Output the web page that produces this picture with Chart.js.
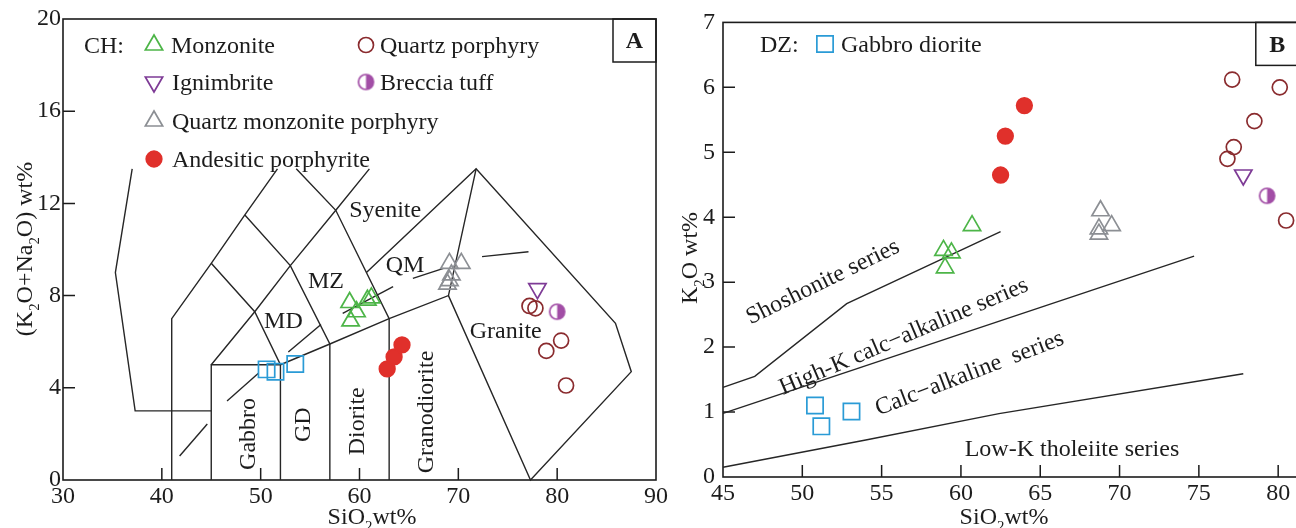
<!DOCTYPE html>
<html>
<head>
<meta charset="utf-8">
<script src="https://cdn.jsdelivr.net/npm/chart.js@4.4.0/dist/chart.umd.min.js"></script>
<style>
  html, body { margin: 0; padding: 0; background: #fff; overflow: hidden; }
  #wrap { position: relative; width: 1296px; height: 528px; overflow: hidden; }
  canvas { position: absolute; top: 0; }
  #chartA { left: 0; }
  #chartB { left: 662px; }
</style>
</head>
<body>
<div id="wrap">
  <canvas id="chartA" width="680" height="528"></canvas>
  <canvas id="chartB" width="650" height="528"></canvas>
</div>
<script>
const FONT = '"Liberation Serif", "Times New Roman", serif';

// ---- panel A: SiO2 vs K2O+Na2O ----
const A_xTicks = [30, 40, 50, 60, 70, 80, 90];
const A_yTicks = [0, 4, 8, 12, 16, 20];

const A_monzonite_x = [59.0, 59.7, 59.1, 60.8, 61.2];
const A_monzonite_y = [7.7, 7.3, 6.9, 7.8, 7.9];
const A_qmp_x = [69.1, 70.3, 69.3, 69.1, 68.9];
const A_qmp_y = [9.4, 9.4, 8.9, 8.65, 8.5];
const A_qporphyry_x = [77.2, 77.8, 80.4, 78.9, 80.9];
const A_qporphyry_y = [7.55, 7.45, 6.05, 5.6, 4.1];
const A_ignimbrite_x = [78.0];
const A_ignimbrite_y = [8.3];
const A_breccia_x = [80.0];
const A_breccia_y = [7.3];
const A_andesitic_x = [62.8, 63.5, 64.3];
const A_andesitic_y = [4.82, 5.34, 5.86];
const A_gabbroDior_x = [50.6, 51.5, 53.5];
const A_gabbroDior_y = [4.8, 4.7, 5.03];

// field boundaries (SiO2, alkalis)
const A_lines = [
  [[37, 13.5], [35.3, 9], [37.3, 3], [45, 3]],
  [[41, 0], [41, 7], [45, 9.4], [48.4, 11.5], [51.7, 13.5]],
  [[45, 0], [45, 5], [52, 5]],
  [[45, 5], [49.4, 7.3], [53, 9.3], [57.6, 11.7], [61, 13.5]],
  [[45, 9.4], [49.4, 7.3], [52, 5], [52, 0]],
  [[48.4, 11.5], [53, 9.3], [57, 5.9], [57, 0]],
  [[53.6, 13.5], [57.6, 11.7], [63, 7], [63, 0]],
  [[52, 5], [57, 5.9], [63, 7], [69, 8], [71.8, 13.5]],
  [[69, 8], [77.3, 0], [87.5, 4.7], [85.9, 6.8], [71.8, 13.5], [60.7, 9.0]]
];
// alkaline / subalkaline divide, drawn broken
const A_divide = [
  [[41.8, 1.04], [44.6, 2.43]],
  [[46.6, 3.43], [49.8, 4.64]],
  [[52.8, 5.55], [56.1, 6.75]],
  [[58.3, 7.23], [63.4, 8.39]],
  [[65.4, 8.75], [68.5, 9.18]],
  [[72.4, 9.69], [77.1, 9.9]]
];
const A_fields = [
  { t: 'Syenite', x: 62.6, y: 11.7, r: 0 },
  { t: 'QM', x: 64.6, y: 9.3, r: 0 },
  { t: 'MZ', x: 56.6, y: 8.6, r: 0 },
  { t: 'MD', x: 52.3, y: 6.85, r: 0 },
  { t: 'Granite', x: 74.8, y: 6.45, r: 0 },
  { t: 'Gabbro', x: 48.8, y: 2.0, r: -90 },
  { t: 'GD', x: 54.4, y: 2.4, r: -90 },
  { t: 'Diorite', x: 59.85, y: 2.55, r: -90 },
  { t: 'Granodiorite', x: 66.8, y: 2.95, r: -90 }
];

// ---- panel B: SiO2 vs K2O ----
const B_xTicks = [45, 50, 55, 60, 65, 70, 75, 80];
const B_yTicks = [0, 1, 2, 3, 4, 5, 6, 7];

const B_monzonite_x = [58.9, 59.4, 59.0, 60.7];
const B_monzonite_y = [3.49, 3.45, 3.22, 3.87];
const B_qmp_x = [68.8, 68.7, 69.5, 68.7];
const B_qmp_y = [4.1, 3.82, 3.87, 3.74];
const B_qporphyry_x = [77.1, 80.1, 78.5, 77.2, 76.8, 80.5];
const B_qporphyry_y = [6.12, 6.0, 5.48, 5.08, 4.9, 3.95];
const B_ignimbrite_x = [77.8];
const B_ignimbrite_y = [4.65];
const B_breccia_x = [79.3];
const B_breccia_y = [4.33];
const B_andesitic_x = [64.0, 62.8, 62.5];
const B_andesitic_y = [5.72, 5.25, 4.65];
const B_gabbroDior_x = [50.8, 51.2, 53.1];
const B_gabbroDior_y = [1.1, 0.78, 1.01];

const B_lines = [
  [[45, 1.38], [47, 1.55], [52.8, 2.67], [62.5, 3.78]],
  [[45, 0.98], [74.7, 3.4]],
  [[45, 0.15], [54, 0.57], [62.4, 0.975], [77.8, 1.59]]
];
const B_fields = [
  { t: 'Shoshonite series', x: 51.3, y: 3.0, r: -26 },
  { t: 'High-K calc\u2212alkaline series', x: 56.4, y: 2.16, r: -23 },
  { t: 'Calc\u2212alkaline  series', x: 60.55, y: 1.59, r: -21 },
  { t: 'Low-K tholeiite series', x: 67.0, y: 0.42, r: 0 }
];

const GREEN = '#4db548';
const MAROON = '#8a2b2e';
const PURPLE = '#7e3b96';
const BRECCIA = '#a24ea6';
const GRAY = '#8c8f94';
const RED = '#e0302b';
const BLUE = '#2a9bd6';
const INK = '#1c1c1c';

function halfCircle(r, color) {
    const c = document.createElement('canvas');
    const s = Math.ceil(r * 2 + 4);
    c.width = s;
    c.height = s;
    const g = c.getContext('2d');
    g.beginPath();
    g.arc(s / 2, s / 2, r, -Math.PI / 2, Math.PI / 2);
    g.closePath();
    g.fillStyle = color;
    g.fill();
    g.beginPath();
    g.arc(s / 2, s / 2, r, 0, Math.PI * 2);
    g.strokeStyle = color;
    g.lineWidth = 1.7;
    g.stroke();
    return c;
}
const HALF = halfCircle(7.5, BRECCIA);

const STYLES = {
    monzonite: { pointStyle: 'triangle', radius: 10, color: GREEN, fill: null, rotation: 0 },
    qporphyry: { pointStyle: 'circle', radius: 7.5, color: MAROON, fill: null, rotation: 0 },
    ignimbrite: { pointStyle: 'triangle', radius: 10, color: PURPLE, fill: null, rotation: 180 },
    breccia: { pointStyle: HALF, radius: 7.5, color: BRECCIA, fill: null, rotation: 0 },
    qmp: { pointStyle: 'triangle', radius: 10, color: GRAY, fill: null, rotation: 0 },
    andesitic: { pointStyle: 'circle', radius: 7.8, color: RED, fill: RED, rotation: 0 },
    gabbroDior: { pointStyle: 'rect', radius: 11.5, color: BLUE, fill: null, rotation: 0 }
};

function markers(xs, ys, key) {
    const st = STYLES[key];
    return {
        data: xs.map((x, i) => ({ x: x, y: ys[i] })),
        pointStyle: st.pointStyle,
        pointRadius: st.radius,
        pointRotation: st.rotation,
        pointBorderColor: st.color,
        pointBackgroundColor: st.fill || 'rgba(0,0,0,0)',
        pointBorderWidth: 1.7,
        showLine: false,
        clip: false
    };
}

function boundary(line) {
    return {
        data: line.map(p => ({ x: p[0], y: p[1] })),
        showLine: true,
        pointRadius: 0,
        borderColor: '#262626',
        borderWidth: 1.4,
        fill: false,
        clip: false
    };
}

function drawRich(ctx, parts, x, y, size, rot) {
    ctx.save();
    ctx.translate(x, y);
    if (rot) ctx.rotate(rot * Math.PI / 180);
    const sizes = parts.map(p => p[1] ? size * 0.62 : size);
    let total = 0;
    parts.forEach((p, i) => {
        ctx.font = sizes[i] + 'px ' + FONT;
        total += ctx.measureText(p[0]).width;
    });
    let cx = -total / 2;
    ctx.textAlign = 'left';
    ctx.textBaseline = 'alphabetic';
    ctx.fillStyle = INK;
    parts.forEach((p, i) => {
        ctx.font = sizes[i] + 'px ' + FONT;
        ctx.fillText(p[0], cx, p[1] ? size * 0.28 : 0);
        cx += ctx.measureText(p[0]).width;
    });
    ctx.restore();
}

function legendMark(ctx, key, x, y) {
    const st = STYLES[key];
    ctx.save();
    ctx.strokeStyle = st.color;
    ctx.fillStyle = st.fill || 'rgba(0,0,0,0)';
    ctx.lineWidth = 1.7;
    Chart.helpers.drawPoint(ctx, { pointStyle: st.pointStyle, radius: st.radius, rotation: st.rotation, borderWidth: 1.7 }, x, y);
    ctx.restore();
}

function makePanel(id, s) {
    const deco = {
        id: 'deco',
        beforeDatasetsDraw(chart) {
            const ctx = chart.ctx;
            const a = chart.chartArea;
            const xs = chart.scales.x, ys = chart.scales.y;
            ctx.save();
            ctx.strokeStyle = INK;
            ctx.lineWidth = 1.6;
            ctx.strokeRect(a.left, a.top, a.right - a.left, a.bottom - a.top);
            ctx.lineWidth = 1.5;
            ctx.beginPath();
            s.innerX.forEach(v => {
                const px = xs.getPixelForValue(v);
                ctx.moveTo(px, a.bottom);
                ctx.lineTo(px, a.bottom - 12);
            });
            s.innerY.forEach(v => {
                const py = ys.getPixelForValue(v);
                ctx.moveTo(a.left, py);
                ctx.lineTo(a.left + 12, py);
            });
            ctx.stroke();
            // panel letter box
            ctx.strokeRect(a.right - 43, a.top, 43, 43);
            ctx.fillStyle = INK;
            ctx.font = 'bold 24px ' + FONT;
            ctx.textAlign = 'center';
            ctx.textBaseline = 'middle';
            ctx.fillText(s.letter, a.right - 21.5, a.top + 23);
            ctx.restore();
        },
        afterDatasetsDraw(chart) {
            const ctx = chart.ctx;
            const xs = chart.scales.x, ys = chart.scales.y;
            ctx.save();
            ctx.fillStyle = INK;
            ctx.font = '24px ' + FONT;
            ctx.textAlign = 'center';
            ctx.textBaseline = 'middle';
            s.fields.forEach(f => {
                ctx.save();
                ctx.translate(xs.getPixelForValue(f.x), ys.getPixelForValue(f.y));
                ctx.rotate(f.r * Math.PI / 180);
                ctx.fillText(f.t, 0, 0);
                ctx.restore();
            });
            // legend
            ctx.textAlign = 'left';
            ctx.textBaseline = 'alphabetic';
            s.legend.forEach(it => {
                ctx.fillStyle = INK;
                ctx.font = '24px ' + FONT;
                ctx.fillText(it.t, it.tx, it.y + 8);
                if (it.key) legendMark(ctx, it.key, it.mx, it.y);
            });
            ctx.restore();
            drawRich(ctx, s.xTitle, s.xTitlePos[0], s.xTitlePos[1], 24, 0);
            drawRich(ctx, s.yTitle, s.yTitlePos[0], s.yTitlePos[1], 24, -90);
        }
    };

    return new Chart(document.getElementById(id), {
        type: 'scatter',
        data: { datasets: s.datasets },
        options: {
            responsive: false,
            animation: false,
            events: [],
            layout: { padding: s.padding },
            plugins: { legend: { display: false }, tooltip: { enabled: false } },
            scales: {
                x: {
                    type: 'linear', min: s.xMin, max: s.xMax,
                    grid: { display: false, drawTicks: false },
                    border: { display: false },
                    ticks: { color: INK, font: { family: FONT, size: 24 }, padding: 2, autoSkip: false, maxRotation: 0 },
                    afterBuildTicks: ax => { ax.ticks = s.xTicks.map(v => ({ value: v })); },
                    afterFit: ax => { ax.height = s.axisH; }
                },
                y: {
                    type: 'linear', min: s.yMin, max: s.yMax,
                    grid: { display: false, drawTicks: false },
                    border: { display: false },
                    ticks: { color: INK, font: { family: FONT, size: 24 }, padding: s.yPad, autoSkip: false },
                    afterBuildTicks: ax => { ax.ticks = s.yTicks.map(v => ({ value: v })); },
                    afterFit: ax => { ax.width = s.axisW; }
                }
            }
        },
        plugins: [deco]
    });
}

function pointSets(P) {
    return [
        markers(P.andesitic_x, P.andesitic_y, 'andesitic'),
        markers(P.monzonite_x, P.monzonite_y, 'monzonite'),
        markers(P.qmp_x, P.qmp_y, 'qmp'),
        markers(P.qporphyry_x, P.qporphyry_y, 'qporphyry'),
        markers(P.ignimbrite_x, P.ignimbrite_y, 'ignimbrite'),
        markers(P.breccia_x, P.breccia_y, 'breccia'),
        markers(P.gabbroDior_x, P.gabbroDior_y, 'gabbroDior')
    ];
}

makePanel('chartA', {
    xMin: 30, xMax: 90, yMin: 0, yMax: 20,
    xTicks: A_xTicks, yTicks: A_yTicks,
    innerX: [40, 50, 60, 70, 80], innerY: [4, 8, 12, 16],
    axisW: 63, axisH: 48, yPad: 2,
    padding: { top: 19, right: 24, left: 0, bottom: 0 },
    datasets: pointSets({
        andesitic_x: A_andesitic_x, andesitic_y: A_andesitic_y,
        monzonite_x: A_monzonite_x, monzonite_y: A_monzonite_y,
        qmp_x: A_qmp_x, qmp_y: A_qmp_y,
        qporphyry_x: A_qporphyry_x, qporphyry_y: A_qporphyry_y,
        ignimbrite_x: A_ignimbrite_x, ignimbrite_y: A_ignimbrite_y,
        breccia_x: A_breccia_x, breccia_y: A_breccia_y,
        gabbroDior_x: A_gabbroDior_x, gabbroDior_y: A_gabbroDior_y
    }).concat(A_lines.map(boundary), A_divide.map(boundary)),
    fields: A_fields,
    letter: 'A',
    legend: [
        { t: 'CH:', tx: 84, y: 45 },
        { t: 'Monzonite', tx: 171, mx: 154, y: 45, key: 'monzonite' },
        { t: 'Quartz porphyry', tx: 380, mx: 366, y: 45, key: 'qporphyry' },
        { t: 'Ignimbrite', tx: 172, mx: 154, y: 82, key: 'ignimbrite' },
        { t: 'Breccia tuff', tx: 380, mx: 366, y: 82, key: 'breccia' },
        { t: 'Quartz monzonite porphyry', tx: 172, mx: 154, y: 121, key: 'qmp' },
        { t: 'Andesitic porphyrite', tx: 172, mx: 154, y: 159, key: 'andesitic' }
    ],
    xTitle: [['SiO', 0], ['2', 1], ['wt%', 0]], xTitlePos: [372, 524],
    yTitle: [['(K', 0], ['2', 1], ['O+Na', 0], ['2', 1], ['O) wt%', 0]], yTitlePos: [32, 249]
});

makePanel('chartB', {
    xMin: 45, xMax: 81.3, yMin: 0, yMax: 7,
    xTicks: B_xTicks, yTicks: B_yTicks,
    innerX: [50, 55, 60, 65, 70, 75, 80], innerY: [1, 2, 3, 4, 5, 6],
    axisW: 61, axisH: 51, yPad: 8,
    padding: { top: 20, right: 11, left: 0, bottom: 0 },
    datasets: pointSets({
        andesitic_x: B_andesitic_x, andesitic_y: B_andesitic_y,
        monzonite_x: B_monzonite_x, monzonite_y: B_monzonite_y,
        qmp_x: B_qmp_x, qmp_y: B_qmp_y,
        qporphyry_x: B_qporphyry_x, qporphyry_y: B_qporphyry_y,
        ignimbrite_x: B_ignimbrite_x, ignimbrite_y: B_ignimbrite_y,
        breccia_x: B_breccia_x, breccia_y: B_breccia_y,
        gabbroDior_x: B_gabbroDior_x, gabbroDior_y: B_gabbroDior_y
    }).concat(B_lines.map(boundary)),
    fields: B_fields,
    letter: 'B',
    legend: [
        { t: 'DZ:', tx: 98, y: 44 },
        { t: 'Gabbro diorite', tx: 179, mx: 163, y: 44, key: 'gabbroDior' }
    ],
    xTitle: [['SiO', 0], ['2', 1], ['wt%', 0]], xTitlePos: [342, 524],
    yTitle: [['K', 0], ['2', 1], ['O wt%', 0]], yTitlePos: [35, 258]
});
</script>
</body>
</html>
